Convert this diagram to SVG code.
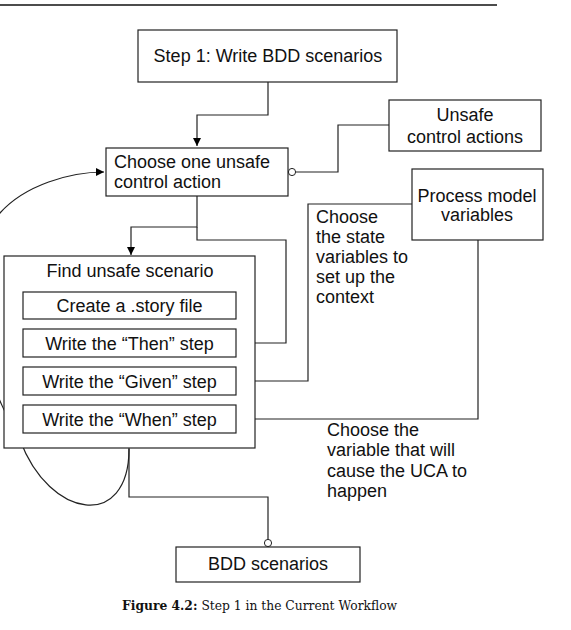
<svg xmlns="http://www.w3.org/2000/svg" width="571" height="630" viewBox="0 0 571 630">
<defs>
<style>
.box{fill:#fff;stroke:#222;stroke-width:1.2}
.con{fill:none;stroke:#222;stroke-width:1.2}
.t{font-family:"Liberation Sans",Arial,sans-serif;font-size:18px;fill:#111}
.c{text-anchor:middle}
.circ{fill:#fff;stroke:#222;stroke-width:1}
.cap{font-family:"DejaVu Serif",serif;font-size:12.3px;fill:#111}
</style>
<linearGradient id="fade" x1="0" x2="1" y1="0" y2="0">
<stop offset="0" stop-color="#000"/>
<stop offset="1" stop-color="#fff"/>
</linearGradient>
<marker id="arr" viewBox="0 0 10 10" refX="10" refY="5" markerWidth="8" markerHeight="10" markerUnits="userSpaceOnUse" orient="auto">
<path d="M0,0 L10,5 L0,10 z" fill="#000"/>
</marker>
<marker id="arrL" viewBox="0 0 10 10" refX="10" refY="5" markerWidth="12" markerHeight="8" markerUnits="userSpaceOnUse" orient="auto">
<path d="M0,0 L10,5 L0,10 z" fill="#000"/>
</marker>
</defs>
<rect width="571" height="630" fill="#fff"/>
<line x1="0" y1="5" x2="497" y2="5" stroke="#111" stroke-width="1.3"/>
<line x1="127" y1="28.5" x2="360" y2="28.5" stroke="url(#fade)" stroke-width="1"/>

<g id="connectors">
<path class="con" d="M268,82 V115 H197 V146" marker-end="url(#arrL)"/>
<path class="con" d="M197,196 V227 H131 V255" marker-end="url(#arrL)"/>
<path class="con" d="M197,227 V240 H286 V343 H244"/>
<path class="con" d="M296,172 H338 V125 H389"/>
<path class="con" d="M244,381 H308 V204 H412"/>
<path class="con" d="M244,419 H478 V240"/>
<path class="con" d="M129,448 V497 H268 V539"/>
<path class="con" d="M129,449 C129,530 50,520 20,440 C-35,350 -30,250 0,213 C25,185 70,172 104,172" marker-end="url(#arr)"/>
<circle class="circ" cx="292" cy="172" r="3.6"/>
<circle class="circ" cx="240.5" cy="343" r="3.6"/>
<circle class="circ" cx="240.5" cy="381" r="3.6"/>
<circle class="circ" cx="240.5" cy="419" r="3.6"/>
<circle class="circ" cx="268" cy="543" r="3.6"/>
</g>

<g id="step1">
<rect class="box" x="138" y="30" width="259" height="52"/>
<text class="t c" x="268" y="62">Step 1: Write BDD scenarios</text>
</g>

<g id="uca">
<rect class="box" x="389" y="100" width="152" height="51"/>
<text class="t c" x="465" y="121">Unsafe</text>
<text class="t c" x="465" y="143">control actions</text>
</g>

<g id="choose">
<rect class="box" x="106" y="148" width="182" height="48"/>
<text class="t" x="114" y="168">Choose one unsafe</text>
<text class="t" x="114" y="188">control action</text>
</g>

<g id="pmv">
<rect class="box" x="412" y="169" width="131" height="71"/>
<text class="t c" x="477" y="202">Process model</text>
<text class="t c" x="477" y="221">variables</text>
</g>

<g id="state-label">
<text class="t" x="316" y="223">Choose</text>
<text class="t" x="316" y="243">the state</text>
<text class="t" x="316" y="263">variables to</text>
<text class="t" x="316" y="283">set up the</text>
<text class="t" x="316" y="303">context</text>
</g>

<g id="find">
<rect class="box" x="4" y="256" width="251" height="192"/>
<text class="t c" x="130" y="277">Find unsafe scenario</text>
</g>

<g id="create">
<rect class="box" x="23" y="292" width="213" height="27"/>
<text class="t c" x="129.5" y="312">Create a .story file</text>
</g>
<g id="then">
<rect class="box" x="23" y="329" width="213" height="28"/>
<text class="t c" x="129.5" y="350">Write the “Then” step</text>
</g>
<g id="given">
<rect class="box" x="23" y="367" width="213" height="28"/>
<text class="t c" x="129.5" y="388">Write the “Given” step</text>
</g>
<g id="when">
<rect class="box" x="23" y="405" width="213" height="28"/>
<text class="t c" x="129.5" y="426">Write the “When” step</text>
</g>

<g id="when-label">
<text class="t" x="327" y="436">Choose the</text>
<text class="t" x="327" y="456">variable that will</text>
<text class="t" x="327" y="477">cause the UCA to</text>
<text class="t" x="327" y="497">happen</text>
</g>

<g id="bdd">
<rect class="box" x="176" y="547" width="184" height="35"/>
<text class="t c" x="268" y="570">BDD scenarios</text>
</g>

<text class="cap" x="122" y="610"><tspan font-weight="bold">Figure 4.2:</tspan> Step 1 in the Current Workflow</text>
</svg>
